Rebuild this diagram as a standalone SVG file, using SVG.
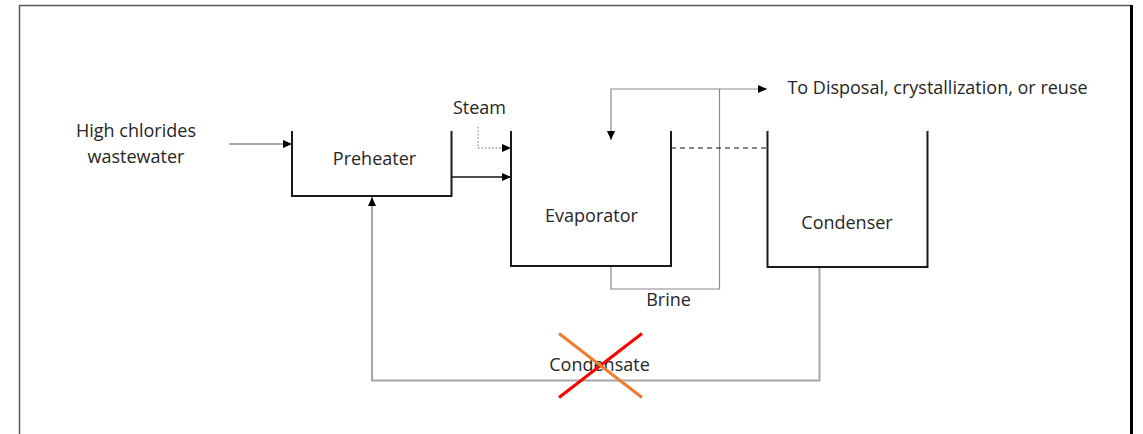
<svg xmlns="http://www.w3.org/2000/svg" width="1143" height="434" viewBox="0 0 1143 434">
<style>
text{font-family:"Open Sans","Liberation Sans",sans-serif;font-size:18px;fill:#262626;text-anchor:middle}
.box{fill:none;stroke:#1a1a1a;stroke-width:2}
.con{fill:none;stroke:#8c8c8c;stroke-width:1.5}
.thin{fill:none;stroke:#8a8a8a;stroke-width:1.2}
.cond{fill:none;stroke:#a6a6a6;stroke-width:2}
</style>
<defs>
<marker id="ah" markerUnits="userSpaceOnUse" markerWidth="9" markerHeight="8" refX="9" refY="4" orient="auto-start-reverse"><path d="M0,0 L9,4 L0,8 z" fill="#000"/></marker>
</defs>
<rect width="1143" height="434" fill="#fff"/>
<g id="frame">
<path d="M19.5,434 V5.5 H1131" fill="none" stroke="#595959" stroke-width="1.5"/>
<path d="M1131.5,5 V434" fill="none" stroke="#000" stroke-width="3"/>
</g>
<g id="connectors">
<path class="con" d="M229,144 H292" marker-end="url(#ah)"/>
<path d="M478,127 V148 H511" fill="none" stroke="#999" stroke-width="1.3" stroke-dasharray="1.5 2" marker-end="url(#ah)"/>
<path d="M452,177 H511" fill="none" stroke="#111" stroke-width="1.5" marker-end="url(#ah)"/>
<path class="thin" d="M611,266 V289 H719.5 V89"/>
<path class="thin" d="M611,140 V89 H767" marker-start="url(#ah)" marker-end="url(#ah)"/>
<path d="M671,148 H767" fill="none" stroke="#111" stroke-width="1.2" stroke-dasharray="5 4"/>
<path class="cond" d="M819.5,267 V380.5 H372 V197" marker-end="url(#ah)"/>
</g>
<g id="wastewater">
<text x="136" y="137">High chlorides</text>
<text x="136" y="163">wastewater</text>
</g>
<g id="preheater">
<path class="box" d="M292,131 V196 H451.5 V131"/>
<text x="374.5" y="165">Preheater</text>
</g>
<g id="steam">
<text x="479.5" y="114">Steam</text>
</g>
<g id="evaporator">
<path class="box" d="M511,131 V266 H671 V131"/>
<text x="591.5" y="222">Evaporator</text>
</g>
<g id="condenser">
<path class="box" d="M767.5,131 V267 H927.5 V131"/>
<text x="847" y="229">Condenser</text>
</g>
<g id="disposal">
<text x="937.5" y="94" >To Disposal, crystallization, or reuse</text>
</g>
<g id="brine">
<text x="668.5" y="306">Brine</text>
</g>
<g id="condensate">
<text x="599.5" y="371">Condensate</text>
<line x1="559" y1="397.5" x2="642" y2="333.5" stroke="#ff0000" stroke-width="3"/>
<line x1="559" y1="333.5" x2="642" y2="397.5" stroke="#ed7d31" stroke-width="3"/>
</g>
</svg>
